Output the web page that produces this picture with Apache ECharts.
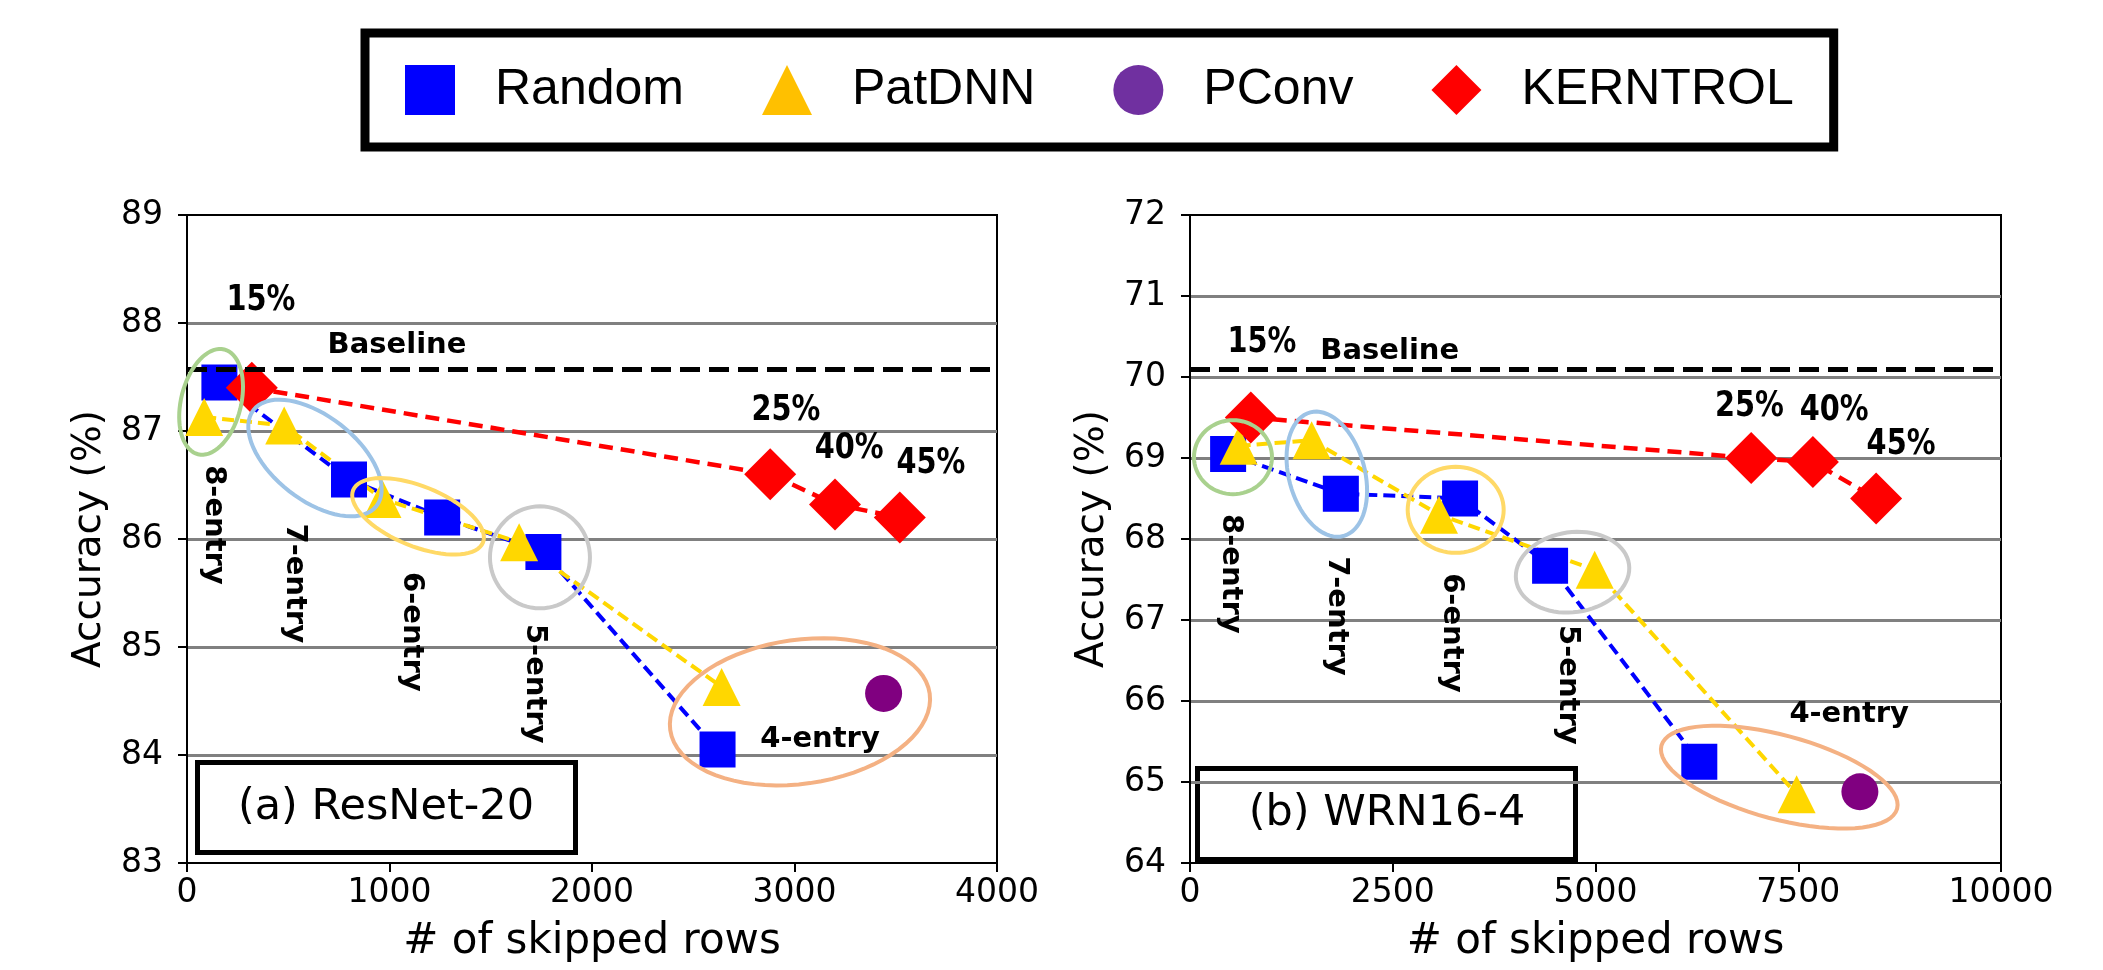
<!DOCTYPE html>
<html>
<head>
<meta charset="utf-8">
<script src="https://cdn.jsdelivr.net/npm/echarts@6/dist/echarts.min.js"></script>
<style>
html,body{margin:0;padding:0;background:#fff;}
#chart{width:2103px;height:970px;}
</style>
</head>
<body>
<div id="chart"></div>
<script>
// ---------- data ----------
const seriesNames = ['Random', 'PatDNN', 'PConv', 'KERNTROL'];

// (a) ResNet-20
const xTicksA = [0, 1000, 2000, 3000, 4000];
const yTicksA = [83, 84, 85, 86, 87, 88, 89];
const resRandomX = [160, 800, 1260, 1760, 2620];
const resRandomY = [87.45, 86.55, 86.2, 85.88, 84.05];
const resPatX = [85, 480, 965, 1640, 2640];
const resPatY = [87.13, 87.05, 86.37, 85.97, 84.63];
const resPconvX = [3440];
const resPconvY = [84.57];
const resKernX = [320, 2880, 3200, 3520];
const resKernY = [87.4, 86.6, 86.32, 86.2];
const resBaseline = 87.57;
const resLabelText = ['15%', 'Baseline', '25%', '40%', '45%', '4-entry'];
const resLabelX = [365, 1037, 2958, 3270, 3674, 3126];
const resLabelY = [88.21, 87.79, 87.19, 86.84, 86.70, 84.14];
const resVLabelText = ['8-entry', '7-entry', '6-entry', '5-entry'];
const resVLabelX = [133, 530, 1110, 1718];
const resVLabelY = [86.13, 85.59, 85.14, 84.66];
const resEllipseX = [119, 632, 1141, 1743, 3027];
const resEllipseY = [87.27, 86.75, 86.21, 85.83, 84.40];

// (b) WRN16-4
const xTicksB = [0, 2500, 5000, 7500, 10000];
const yTicksB = [64, 65, 66, 67, 68, 69, 70, 71, 72];
const wrnRandomX = [470, 1860, 3330, 4440, 6280];
const wrnRandomY = [69.05, 68.56, 68.5, 67.67, 65.25];
const wrnPatX = [600, 1500, 3070, 4990, 7480];
const wrnPatY = [69.15, 69.22, 68.3, 67.62, 64.85];
const wrnPconvX = [8260];
const wrnPconvY = [64.88];
const wrnKernX = [750, 6920, 7680, 8460];
const wrnKernY = [69.5, 69.0, 68.95, 68.5];
const wrnBaseline = 70.1;
const wrnLabelText = ['15%', 'Baseline', '25%', '40%', '45%', '4-entry'];
const wrnLabelX = [887, 2463, 6897, 7943, 8768, 8128];
const wrnLabelY = [70.43, 70.32, 69.63, 69.59, 69.16, 65.83];
const wrnVLabelText = ['8-entry', '7-entry', '6-entry', '5-entry'];
const wrnVLabelX = [500, 1810, 3227, 4655];
const wrnVLabelY = [67.57, 67.05, 66.84, 66.2];
const wrnEllipseX = [530, 1687, 3276, 4717, 7266];
const wrnEllipseY = [69.01, 68.80, 68.36, 67.59, 65.06];

// ---------- styles ----------
const ellipseColors = ['#A9D18E', '#9DC3E6', '#FFD966', '#C9C9C9', '#F4B183'];
const resEllipseShape = [[54, 30, -76], [78, 42, 38], [70, 30, 22], [50, 51, 0], [131, 72, -8]];
const wrnEllipseShape = [[39, 37, 0], [64, 38, 75], [48, 43, 0], [57, 40, -8], [122, 42, 15]];
const markColors = {Random: '#0000FF', PatDNN: '#FFD700', PConv: '#800080', KERNTROL: '#FF0000'};
const legendColors = {Random: '#0000FF', PatDNN: '#FFC000', PConv: '#7030A0', KERNTROL: '#FF0000'};
const symbols = {Random: 'rect', PatDNN: 'triangle', PConv: 'circle', KERNTROL: 'diamond'};
const symbolSizes = {Random: 36, PatDNN: 38, PConv: 37, KERNTROL: 52};
const FONT = 'DejaVu Sans';

const zip = (xs, ys) => xs.map((x, i) => [x, ys[i]]);

function valueAxisX(ticks, gridIndex) {
  return {
    type: 'value', gridIndex: gridIndex,
    min: ticks[0], max: ticks[ticks.length - 1], interval: ticks[1] - ticks[0],
    name: '# of skipped rows', nameLocation: 'middle', nameGap: 58,
    nameTextStyle: {fontFamily: FONT, fontSize: 42, color: '#000'},
    axisLine: {show: true, lineStyle: {color: '#000', width: 2}},
    axisTick: {show: true, length: 9, lineStyle: {color: '#000', width: 2}},
    axisLabel: {fontFamily: FONT, fontSize: 33, color: '#000', margin: 14, formatter: v => String(v)},
    splitLine: {show: false}
  };
}
function valueAxisY(ticks, gridIndex) {
  return {
    type: 'value', gridIndex: gridIndex,
    min: ticks[0], max: ticks[ticks.length - 1], interval: ticks[1] - ticks[0],
    name: 'Accuracy (%)', nameLocation: 'middle', nameGap: 78,
    nameTextStyle: {fontFamily: FONT, fontSize: 39, color: '#000'},
    axisLine: {show: true, lineStyle: {color: '#000', width: 2}},
    axisTick: {show: true, length: 9, lineStyle: {color: '#000', width: 2}},
    axisLabel: {fontFamily: FONT, fontSize: 33, color: '#000', margin: 24, formatter: v => String(v)},
    splitLine: {show: true, showMinLine: false, showMaxLine: false, lineStyle: {color: '#808080', width: 3}}
  };
}

function lineSeries(name, xs, ys, idx, dash, width, baseline) {
  const s = {
    name: name, type: 'line', xAxisIndex: idx, yAxisIndex: idx,
    data: zip(xs, ys),
    symbol: symbols[name], symbolSize: symbolSizes[name],
    itemStyle: {color: markColors[name], opacity: 1},
    lineStyle: {color: markColors[name], width: width, type: dash},
    silent: true, z: 3
  };
  if (name === 'KERNTROL') s.z = 4;
  if (baseline !== undefined) {
    s.markLine = {
      silent: true, symbol: 'none', label: {show: false},
      lineStyle: {color: '#000', width: 5, type: [20, 9]},
      data: [{yAxis: baseline}]
    };
  }
  return s;
}

function pconvSeries(xs, ys, idx) {
  return {
    name: 'PConv', type: 'scatter', xAxisIndex: idx, yAxisIndex: idx,
    data: zip(xs, ys), symbol: symbols.PConv, symbolSize: symbolSizes.PConv,
    itemStyle: {color: markColors.PConv, opacity: 1}, silent: true, z: 3
  };
}

function ellipseSeries(xs, ys, shapes, idx) {
  return {
    type: 'custom', xAxisIndex: idx, yAxisIndex: idx, silent: true, z: 6,
    data: zip(xs, ys),
    renderItem: function (params, api) {
      const c = api.coord([api.value(0), api.value(1)]);
      const sh = shapes[params.dataIndex];
      const a = sh[0], b = sh[1], th = sh[2] * Math.PI / 180;
      const pts = [];
      for (let k = 0; k < 72; k++) {
        const t = k / 72 * Math.PI * 2;
        const ex = a * Math.cos(t), ey = b * Math.sin(t);
        pts.push([c[0] + ex * Math.cos(th) - ey * Math.sin(th), c[1] + ex * Math.sin(th) + ey * Math.cos(th)]);
      }
      return {type: 'polygon', shape: {points: pts},
        style: {fill: 'none', stroke: ellipseColors[params.dataIndex], lineWidth: 4}};
    }
  };
}

function labelSeries(xs, ys, texts, idx, rotateDeg) {
  return {
    type: 'custom', xAxisIndex: idx, yAxisIndex: idx, silent: true, z: 7,
    data: xs.map((x, i) => [x, ys[i]]),
    renderItem: function (params, api) {
      const c = api.coord([api.value(0), api.value(1)]);
      const txt = texts[params.dataIndex];
      const isPct = /%$/.test(txt);
      return {type: 'text', x: c[0], y: c[1], rotation: rotateDeg * Math.PI / 180,
        scaleX: isPct ? 0.8 : 1,
        style: {text: txt, fontFamily: FONT, fontSize: isPct ? 36 : 29, fontWeight: 'bold',
          fill: '#000', align: 'center', verticalAlign: 'middle'}};
    }
  };
}

const chart = echarts.init(document.getElementById('chart'), null, {width: 2103, height: 970});
chart.setOption({
  animation: false,
  backgroundColor: '#fff',
  grid: [
    {left: 187, top: 215, width: 810, height: 648, show: true, borderColor: '#000', borderWidth: 2, backgroundColor: 'transparent'},
    {left: 1190, top: 215, width: 811, height: 648, show: true, borderColor: '#000', borderWidth: 2, backgroundColor: 'transparent'}
  ],
  xAxis: [valueAxisX(xTicksA, 0), valueAxisX(xTicksB, 1)],
  yAxis: [valueAxisY(yTicksA, 0), valueAxisY(yTicksB, 1)],
  legend: {
    left: 365, top: 33, orient: 'horizontal',
    itemWidth: 50, itemHeight: 50, itemGap: 78,
    padding: [32, 40, 32, 40],
    borderColor: '#000', borderWidth: 9,
    selectedMode: false,
    textStyle: {fontFamily: 'Liberation Sans', fontSize: 50, color: '#000', padding: [0, 0, 0, 35]},
    data: seriesNames.map(n => ({name: n, icon: symbols[n], itemStyle: {color: legendColors[n], borderWidth: 0}}))
  },
  graphic: [
    {type: 'group', z: 100, children: [
      {type: 'rect', shape: {x: 197.5, y: 762.5, width: 378, height: 90},
        style: {fill: '#fff', stroke: '#000', lineWidth: 5}},
      {type: 'text', x: 386, y: 808,
        style: {text: '(a) ResNet-20', fontFamily: FONT, fontSize: 43, fill: '#000', align: 'center', verticalAlign: 'middle'}}
    ]},
    {type: 'group', z: 100, children: [
      {type: 'rect', shape: {x: 1197.5, y: 768.5, width: 378, height: 91},
        style: {fill: '#fff', stroke: '#000', lineWidth: 5}},
      {type: 'text', x: 1387, y: 814,
        style: {text: '(b) WRN16-4', fontFamily: FONT, fontSize: 43, fill: '#000', align: 'center', verticalAlign: 'middle'}}
    ]}
  ],
  series: [
    lineSeries('Random', resRandomX, resRandomY, 0, [12, 6], 4, resBaseline),
    lineSeries('PatDNN', resPatX, resPatY, 0, [12, 6], 4),
    pconvSeries(resPconvX, resPconvY, 0),
    lineSeries('KERNTROL', resKernX, resKernY, 0, [14, 8], 4.5),
    ellipseSeries(resEllipseX, resEllipseY, resEllipseShape, 0),
    labelSeries(resLabelX, resLabelY, resLabelText, 0, 0),
    labelSeries(resVLabelX, resVLabelY, resVLabelText, 0, -90),

    lineSeries('Random', wrnRandomX, wrnRandomY, 1, [12, 6], 4, wrnBaseline),
    lineSeries('PatDNN', wrnPatX, wrnPatY, 1, [12, 6], 4),
    pconvSeries(wrnPconvX, wrnPconvY, 1),
    lineSeries('KERNTROL', wrnKernX, wrnKernY, 1, [14, 8], 4.5),
    ellipseSeries(wrnEllipseX, wrnEllipseY, wrnEllipseShape, 1),
    labelSeries(wrnLabelX, wrnLabelY, wrnLabelText, 1, 0),
    labelSeries(wrnVLabelX, wrnVLabelY, wrnVLabelText, 1, -90)
  ]
});
</script>
</body>
</html>
